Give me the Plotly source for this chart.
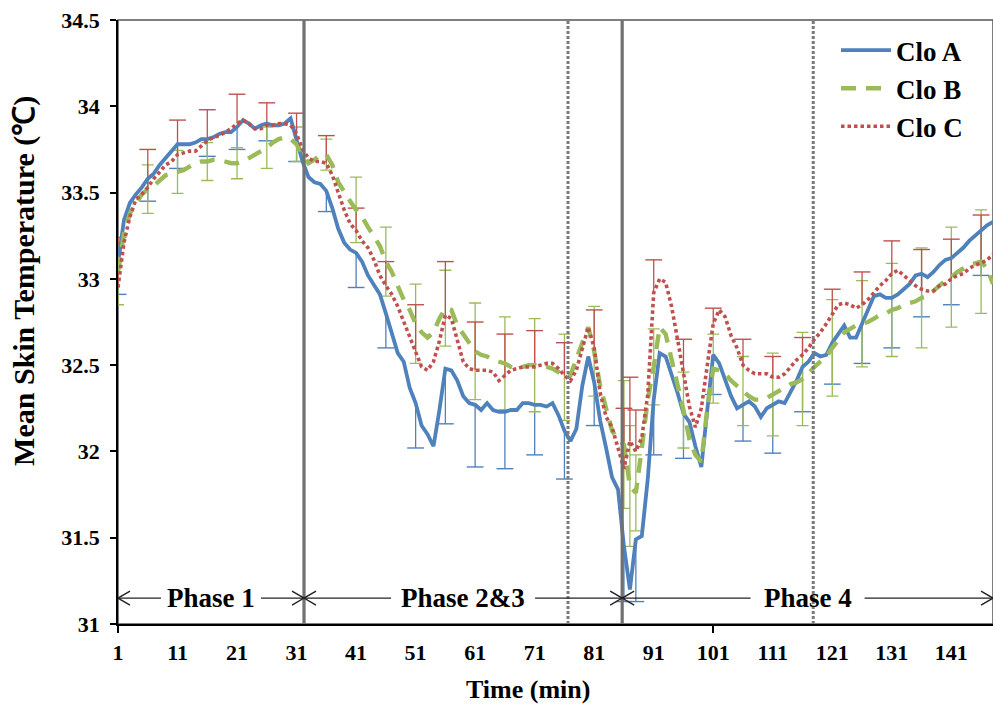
import plotly.graph_objects as go

# ---- data -------------------------------------------------------------
minutes = list(range(1, 149))

clo_a = [
    33.09, 33.34, 33.44, 33.49, 33.53, 33.58, 33.61, 33.66, 33.70, 33.74,
    33.78, 33.78, 33.78, 33.79, 33.81, 33.81, 33.82, 33.84, 33.85, 33.85,
    33.88, 33.92, 33.90, 33.87, 33.89, 33.90, 33.89, 33.89, 33.90, 33.93,
    33.80, 33.68, 33.59, 33.56, 33.55, 33.51, 33.41, 33.29, 33.21, 33.17,
    33.15, 33.10, 33.02, 32.96, 32.91, 32.80, 32.68, 32.57, 32.52, 32.37,
    32.28, 32.15, 32.10, 32.03, 32.24, 32.48, 32.47, 32.41, 32.32, 32.28,
    32.27, 32.24, 32.28, 32.24, 32.23, 32.23, 32.24, 32.24, 32.28, 32.28,
    32.27, 32.27, 32.26, 32.28, 32.21, 32.12, 32.06, 32.13, 32.38, 32.55,
    32.40, 32.18, 32.02, 31.85, 31.78, 31.45, 31.20, 31.49, 31.51, 31.84,
    32.30, 32.57, 32.55, 32.45, 32.34, 32.22, 32.17, 32.03, 31.91, 32.24,
    32.56, 32.51, 32.41, 32.32, 32.25, 32.27, 32.29, 32.26, 32.20, 32.25,
    32.27, 32.29, 32.28, 32.34, 32.41, 32.49, 32.52, 32.57, 32.55, 32.56,
    32.63, 32.68, 32.73, 32.66, 32.66, 32.74, 32.82, 32.90, 32.91, 32.89,
    32.89, 32.91, 32.94, 32.97, 33.02, 33.03, 33.01, 33.04, 33.08, 33.11,
    33.12, 33.15, 33.18, 33.22, 33.25, 33.28, 33.31, 33.33,
]

clo_b = [
    33.04, 33.26, 33.38, 33.44, 33.49, 33.52, 33.54, 33.57, 33.60, 33.61,
    33.62, 33.63, 33.65, 33.67, 33.68, 33.68, 33.69, 33.69, 33.68, 33.67,
    33.67, 33.68, 33.70, 33.72, 33.74, 33.76, 33.79, 33.81, 33.82, 33.81,
    33.78, 33.72, 33.67, 33.69, 33.72, 33.72, 33.66, 33.56, 33.50, 33.45,
    33.40, 33.36, 33.30, 33.24, 33.19, 33.10, 33.04, 32.96, 32.88, 32.82,
    32.74, 32.69, 32.66, 32.69, 32.77, 32.83, 32.82, 32.73, 32.68, 32.64,
    32.58, 32.56, 32.55, 32.53, 32.52, 32.51, 32.49, 32.48, 32.49, 32.50,
    32.50, 32.49, 32.49, 32.48, 32.46, 32.43, 32.44, 32.54, 32.63, 32.72,
    32.58, 32.38, 32.25, 32.12, 32.07, 32.04, 31.80, 31.76, 32.02, 32.30,
    32.49, 32.72, 32.68, 32.54, 32.38, 32.24, 32.07, 31.98, 31.94, 32.25,
    32.48, 32.47, 32.45, 32.41, 32.38, 32.35, 32.32, 32.30, 32.30, 32.31,
    32.33, 32.35, 32.37, 32.39, 32.40, 32.42, 32.45, 32.49, 32.52, 32.55,
    32.60, 32.65, 32.69, 32.71, 32.73, 32.74, 32.75, 32.77, 32.79, 32.80,
    32.82, 32.83, 32.85, 32.86, 32.87, 32.89, 32.90, 32.93, 32.96, 32.99,
    33.01, 33.04, 33.06, 33.08, 33.09, 33.10, 33.06, 32.97,
]

clo_c = [
    32.95, 33.21, 33.36, 33.46, 33.49, 33.53, 33.58, 33.62, 33.66, 33.68,
    33.72, 33.73, 33.74, 33.74, 33.77, 33.80, 33.82, 33.83, 33.85, 33.87,
    33.90, 33.92, 33.90, 33.87, 33.87, 33.89, 33.89, 33.90, 33.90, 33.89,
    33.84, 33.75, 33.70, 33.68, 33.68, 33.67, 33.60, 33.50, 33.40, 33.32,
    33.28, 33.22, 33.18, 33.11, 33.02, 32.96, 32.91, 32.84, 32.75, 32.67,
    32.58, 32.49, 32.47, 32.52, 32.64, 32.79, 32.77, 32.64, 32.52, 32.48,
    32.47, 32.47, 32.47, 32.46, 32.41, 32.44, 32.47, 32.48, 32.49, 32.49,
    32.49, 32.50, 32.51, 32.51, 32.48, 32.44, 32.41, 32.47, 32.60, 32.72,
    32.60, 32.34, 32.20, 32.14, 32.02, 31.90, 32.06, 32.00, 32.08, 32.33,
    32.92, 33.00, 32.98, 32.84, 32.65, 32.45, 32.26, 32.14, 32.25, 32.50,
    32.74, 32.82, 32.78, 32.67, 32.60, 32.50, 32.47, 32.45, 32.45, 32.45,
    32.43, 32.43, 32.45, 32.49, 32.53, 32.56, 32.60, 32.65, 32.69, 32.74,
    32.80, 32.85, 32.86, 32.85, 32.83, 32.85, 32.88, 32.92, 32.96, 32.99,
    33.03, 33.05, 33.02, 32.99, 32.96, 32.94, 32.93, 32.93, 32.96, 32.97,
    33.00, 33.02, 33.03, 33.06, 33.08, 33.09, 33.11, 33.14,
]

# standard deviations at the sampled minutes (None = not plotted)
err_minutes = [1, 6, 11, 16, 21, 26, 31, 36, 41, 46, 51, 56, 61, 66, 71, 76,
               81, 86, 87, 88, 91, 96, 101, 106, 111, 116, 121, 126, 131, 136,
               141, 146]
err_a = [0.18, 0.13, 0.14, 0.10, 0.13, 0.10, 0.12, 0.12, 0.20, 0.20, 0.26,
         0.32, 0.36, 0.33, 0.29, 0.28, 0.25, 0.32, None, 0.36, 0.32, 0.26,
         0.23, 0.21, 0.28, 0.26, 0.24, 0.23, 0.29, 0.25, 0.27, 0.26]
err_b = [0.19, 0.14, 0.125, 0.11, 0.09, 0.12, 0.10, 0.09, 0.19, 0.20, 0.23,
         0.22, 0.28, 0.27, 0.27, 0.25, 0.26, 0.37, 0.35, 0.22, 0.22, 0.22,
         0.20, 0.20, 0.24, 0.27, 0.28, 0.25, 0.27, 0.29, 0.29, 0.30]
err_c = [0.29, 0.22, 0.20, 0.18, 0.17, 0.13, 0.12, 0.16, 0.13, 0.14, 0.27,
         0.31, 0.28, 0.24, 0.21, 0.19, 0.22, 0.35, 0.37, 0.24, 0.19, 0.20,
         0.09, 0.15, 0.12, 0.10, 0.14, 0.19, 0.19, 0.23, 0.23, 0.28]

x_tick_labels = [1, 11, 21, 31, 41, 51, 61, 71, 81, 91, 101, 111, 121, 131, 141]
y_tick_values = [31, 31.5, 32, 32.5, 33, 33.5, 34, 34.5]

phase_bounds = [1, 32.25, 85.7, 148]
phase_names = ["Phase 1", "Phase 2&3", "Phase 4"]
sampling_marks = [76.6, 117.8]

# ---- styling ----------------------------------------------------------
FONT = "Liberation Serif"
BLUE, GREEN, RED = "#4F81BD", "#9BBB59", "#C0504D"
PX_PER_MIN = 875 / 147          # plot width / x span
PX_PER_DEG = 604 / 3.5          # plot height / y span

fig = go.Figure()


def value_at(series, m):
    return series[minutes.index(m)]


def one_sided(series, errs, color, direction):
    """Error bars drawn in a single direction with a cap at the far end."""
    xs, caps, lens = [], [], []
    for m, e in zip(err_minutes, errs):
        if e is None:
            continue
        v = value_at(series, m)
        xs.append(m)
        caps.append(v + direction * e)
        lens.append(e)
    zeros = [0] * len(lens)
    fig.add_trace(go.Scatter(
        x=xs, y=caps, mode="markers", showlegend=False, hoverinfo="skip",
        marker=dict(symbol="line-ew", size=12,
                    line=dict(color=color, width=1.4)),
        error_y=dict(type="data", symmetric=False,
                     array=lens if direction < 0 else zeros,
                     arrayminus=zeros if direction < 0 else lens,
                     color=color, thickness=1.3, width=0),
    ))


# error bars (behind the mean curves)
one_sided(clo_a, err_a, BLUE, -1)
fig.add_trace(go.Scatter(
    x=err_minutes, y=[value_at(clo_b, m) for m in err_minutes],
    mode="markers", marker=dict(size=1, opacity=0), showlegend=False,
    hoverinfo="skip",
    error_y=dict(type="data", array=err_b, color=GREEN, thickness=1.3,
                 width=6),
))
one_sided(clo_c, err_c, RED, +1)

# mean skin temperature curves
fig.add_trace(go.Scatter(x=minutes, y=clo_a, mode="lines", name="Clo A",
                         line=dict(color=BLUE, width=3.8)))
fig.add_trace(go.Scatter(x=minutes, y=clo_b, mode="lines", name="Clo B",
                         line=dict(color=GREEN, width=4.4, dash="15px,10px")))
fig.add_trace(go.Scatter(x=minutes, y=clo_c, mode="lines", name="Clo C",
                         line=dict(color=RED, width=3.6, dash="3.5px,3px")))

shapes = []
# plot-area frame
shapes.append(dict(type="rect", xref="paper", yref="paper", x0=0, x1=1,
                   y0=0, y1=1, line=dict(color="#555555", width=1.5),
                   layer="below"))
# phase boundaries
for b in phase_bounds[1:-1]:
    shapes.append(dict(type="line", xref="x", yref="paper", x0=b, x1=b,
                       y0=0, y1=1, line=dict(color="#707070", width=3.2)))
# sampling marks
for s in sampling_marks:
    shapes.append(dict(type="line", xref="x", yref="paper", x0=s, x1=s,
                       y0=0, y1=1,
                       line=dict(color="#7a7a7a", width=3, dash="3px,2px")))

# phase arrows
arrow_y = 31.15
gap_px = [50, 72, 57]
head_dx = 12 / PX_PER_MIN
head_dy = 7 / PX_PER_DEG
annotations = []
for i, name in enumerate(phase_names):
    s, e = phase_bounds[i], phase_bounds[i + 1]
    c = (s + e) / 2
    g = gap_px[i] / PX_PER_MIN
    arrow_line = dict(color="#222222", width=1.4)
    shapes.append(dict(type="line", xref="x", yref="y", x0=s, x1=c - g,
                       y0=arrow_y, y1=arrow_y, line=arrow_line))
    shapes.append(dict(type="line", xref="x", yref="y", x0=c + g, x1=e,
                       y0=arrow_y, y1=arrow_y, line=arrow_line))
    shapes.append(dict(type="path", xref="x", yref="y", line=arrow_line,
                       path=f"M{s + head_dx},{arrow_y + head_dy} L{s},{arrow_y} "
                            f"L{s + head_dx},{arrow_y - head_dy}"))
    shapes.append(dict(type="path", xref="x", yref="y", line=arrow_line,
                       path=f"M{e - head_dx},{arrow_y + head_dy} L{e},{arrow_y} "
                            f"L{e - head_dx},{arrow_y - head_dy}"))
    annotations.append(dict(x=c, y=arrow_y, xref="x", yref="y", text=name,
                            showarrow=False, xanchor="center",
                            yanchor="middle",
                            font=dict(family=FONT, size=27, color="black",
                                      weight="bold")))

# axis titles
annotations.append(dict(x=(528 - 118) / 875, y=-0.109, xref="paper",
                        yref="paper", text="Time (min)", showarrow=False,
                        xanchor="center", yanchor="middle",
                        font=dict(family=FONT, size=26, color="black",
                                  weight="bold")))
annotations.append(dict(x=(24 - 118) / 875, y=0.568, xref="paper",
                        yref="paper", text="Mean Skin Temperature (℃)",
                        showarrow=False, textangle=-90, xanchor="center",
                        yanchor="middle",
                        font=dict(family=FONT, size=30, color="black",
                                  weight="bold")))

fig.update_layout(
    width=993, height=706,
    margin=dict(l=118, r=0, t=20, b=82),
    plot_bgcolor="white", paper_bgcolor="white",
    shapes=shapes, annotations=annotations,
    showlegend=True,
    legend=dict(x=(836 - 118) / 875, y=0.99, xanchor="left", yanchor="top",
                bgcolor="rgba(0,0,0,0)", itemwidth=50,
                font=dict(family=FONT, size=27, color="black", weight="bold")),
    xaxis=dict(range=[1, 148], tickmode="array", tickvals=x_tick_labels,
               ticktext=[str(v) for v in x_tick_labels], ticks="",
               showgrid=False, zeroline=False, showline=True,
               linecolor="black", linewidth=1.8,
               tickfont=dict(family=FONT, size=22, color="black",
                             weight="bold"),
               ticklabelstandoff=8,
               minor=dict(tickmode="array", tickvals=[1, 101], ticks="outside",
                          ticklen=7, tickcolor="black", tickwidth=1.5)),
    yaxis=dict(range=[31, 34.5], tickmode="array", tickvals=y_tick_values,
               ticktext=[f"{v:g}" for v in y_tick_values], ticks="outside",
               ticklen=6, tickwidth=1.5, tickcolor="black",
               showgrid=False, zeroline=False, showline=True,
               linecolor="black", linewidth=1.8,
               tickfont=dict(family=FONT, size=22, color="black",
                             weight="bold"),
               ticklabelstandoff=6),
)

fig.write_html("out.html")
